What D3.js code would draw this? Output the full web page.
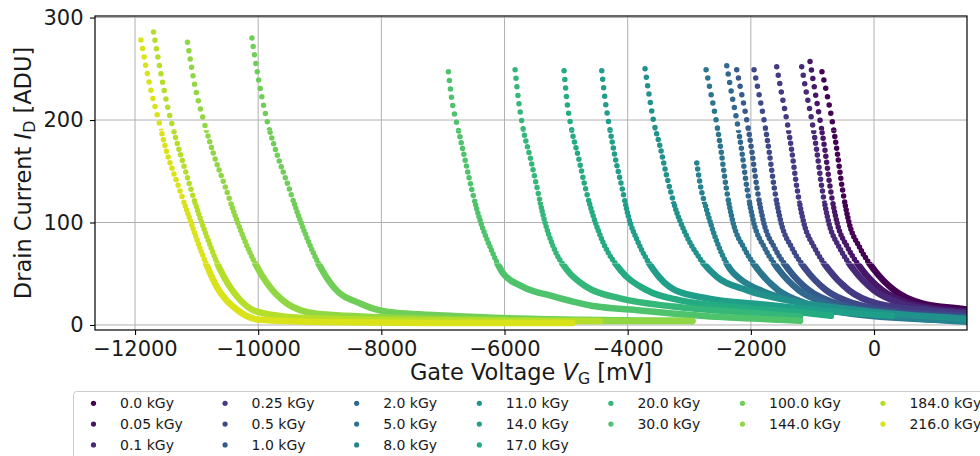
<!DOCTYPE html>
<html>
<head>
<meta charset="utf-8">
<script src="https://cdn.jsdelivr.net/npm/d3@7"></script>
<style>body{margin:0;background:#fff}</style>
</head>
<body>
<script>
// dose labels, one series per dose (legend order)
const doseLabels = ['0.0 kGy', '0.05 kGy', '0.1 kGy', '0.25 kGy', '0.5 kGy', '1.0 kGy',
  '2.0 kGy', '5.0 kGy', '8.0 kGy', '11.0 kGy', '14.0 kGy', '17.0 kGy',
  '20.0 kGy', '30.0 kGy', '100.0 kGy', '144.0 kGy', '184.0 kGy', '216.0 kGy'];

// [gate voltage mV, drain current ADU]
const c0_00 = [[-845,247],[-763,225],[-682,200],[-601,170],[-519,135],[-406,100],[-227,75],[0,54],[325,34],[779,21],[1510,15],[1560,14.5]];
const c0_05 = [[-1039,257],[-958,228],[-877,200],[-795,170],[-714,135],[-601,100],[-422,75],[-195,54],[130,34],[584,21],[1000,16],[1560,13]];
const c0_10 = [[-1174,252],[-1093,225],[-1011,200],[-930,170],[-849,135],[-735,100],[-557,75],[-330,54],[-5,34],[450,21],[950,15],[1560,12]];
const c0_25 = [[-1580,252],[-1498,225],[-1417,200],[-1336,170],[-1255,135],[-1141,100],[-963,75],[-735,54],[-411,34],[44,21],[909,14],[1560,11]];
const c0_50 = [[-1948,249],[-1867,225],[-1786,200],[-1705,170],[-1623,135],[-1510,100],[-1331,75],[-1104,54],[-779,34],[-325,21],[584,12],[1560,9]];
const c1_0 = [[-2229,249],[-2148,225],[-2067,200],[-1985,170],[-1904,135],[-1791,100],[-1612,75],[-1385,54],[-1060,34],[-606,21],[260,12],[1560,7]];
const c2_0 = [[-2391,253],[-2310,225],[-2229,200],[-2148,170],[-2067,135],[-1953,100],[-1774,75],[-1547,54],[-1222,34],[-768,21],[97,11],[1560,5]];
const c5_0 = [[-2727,249],[-2646,225],[-2565,200],[-2484,170],[-2403,135],[-2289,100],[-2110,75],[-1883,54],[-1558,34],[-1104,21],[-227,10],[1560,4]];
const c8_0 = [[-2878,158],[-2825,138],[-2716,112],[-2581,86],[-2460,68],[-2330,54],[-2175,45],[-1770,32],[-1201,22],[-227,12],[747,6],[1560,3]];
const c11 = [[-3718,250],[-3664,229],[-3583,200],[-3474,174],[-3365,145],[-3231,115],[-3068,90],[-2852,67],[-2554,47],[-2067,34],[-1400,24],[-500,16],[500,10],[1560,6]];
const c14 = [[-4421,248],[-4367,220],[-4286,190],[-4205,164],[-4096,135],[-3989,106],[-3826,80],[-3583,54],[-3231,34],[-2700,26],[-1802,20],[-438,12],[300,9]];
const c17 = [[-5033,248],[-4989,220],[-4908,190],[-4801,164],[-4692,135],[-4557,106],[-4395,80],[-4123,54],[-3690,34],[-3149,24],[-2338,18],[-990,11],[-700,9]];
const c20 = [[-5828,249],[-5774,220],[-5693,190],[-5585,164],[-5476,135],[-5369,106],[-5206,76],[-4989,54],[-4664,37],[-4123,26],[-3258,18],[-1802,11],[-1200,8]];
const c30 = [[-6911,247],[-6856,220],[-6748,190],[-6640,161],[-6531,132],[-6396,102],[-6234,76],[-6018,50],[-5693,37],[-5206,28],[-4502,18],[-3961,15],[-2825,9],[-1526,5],[-1200,4]];
const c100 = [[-10102,280],[-10021,249],[-9859,200],[-9697,167],[-9508,135],[-9318,102],[-9102,70],[-8777,37],[-8344,21],[-7911,13],[-6883,9],[-5585,6],[-4000,4.5],[-2950,4]];
const c144 = [[-11148,276],[-11023,232],[-10888,200],[-10726,167],[-10536,135],[-10346,102],[-10130,70],[-9859,41],[-9534,21],[-9047,11],[-7695,7],[-6000,5],[-4500,4],[-2950,4]];
const c184 = [[-11700,286],[-11591,249],[-11482,216],[-11347,184],[-11185,151],[-11023,119],[-10833,86],[-10617,54],[-10346,28],[-10021,13],[-9318,7],[-8000,5],[-6000,4],[-4450,4]];
const c216 = [[-11904,278],[-11753,232],[-11618,200],[-11482,168],[-11293,135],[-11103,102],[-10914,70],[-10670,37],[-10346,15],[-9968,5],[-9000,3],[-7000,2],[-4900,2]];

const curves = [c0_00, c0_05, c0_10, c0_25, c0_50, c1_0, c2_0, c5_0, c8_0,
  c11, c14, c17, c20, c30, c100, c144, c184, c216];

const xTicks = [-12000, -10000, -8000, -6000, -4000, -2000, 0];
const yTicks = [0, 100, 200, 300];

const W = 980, H = 456;
const M = { left: 95, right: 967, top: 16, bottom: 330 };
const FONT = "'DejaVu Sans', sans-serif";

const svg = d3.select('body').append('svg')
  .attr('xmlns', 'http://www.w3.org/2000/svg')
  .attr('width', W).attr('height', H)
  .attr('viewBox', `0 0 ${W} ${H}`);
svg.append('rect').attr('width', W).attr('height', H).attr('fill', '#fff');

const x = d3.scaleLinear().domain([-12650, 1510]).range([M.left, M.right]);
const y = d3.scaleLinear().domain([-4.9, 301.5]).range([M.bottom, M.top]);
const color = i => d3.interpolateViridis(i / curves.length);

// grid
const grid = svg.append('g').attr('stroke', '#b0b0b0').attr('stroke-width', 1);
grid.selectAll('.gx').data(xTicks).join('line')
  .attr('x1', d => x(d)).attr('x2', d => x(d))
  .attr('y1', M.top).attr('y2', M.bottom);
grid.selectAll('.gy').data(yTicks).join('line')
  .attr('y1', d => y(d)).attr('y2', d => y(d))
  .attr('x1', M.left).attr('x2', M.right);

// dot spacing gets denser as the curves flatten out
const bands = [
  { lo: 190, hi: 400, dash: '0 8.5', w: 5.5 },
  { lo: 120, hi: 190, dash: '0 6', w: 5.5 },
  { lo: 60, hi: 120, dash: '0 4', w: 5.5 },
  { lo: -50, hi: 60, dash: null, w: 6.5 }
];
const defs = svg.append('defs');
bands.forEach((b, i) => {
  const y0 = Math.max(M.top, y(b.hi)), y1 = Math.min(M.bottom, y(b.lo));
  defs.append('clipPath').attr('id', 'band' + i)
    .append('rect').attr('x', M.left).attr('y', y0)
    .attr('width', M.right - M.left).attr('height', y1 - y0);
});

const line = d3.line().x(d => x(d[0])).y(d => y(d[1])).curve(d3.curveMonotoneX);
const plot = svg.append('g');
curves.forEach((c, i) => {
  bands.forEach((b, j) => {
    const p = plot.append('path')
      .attr('d', line(c))
      .attr('fill', 'none')
      .attr('stroke', color(i))
      .attr('stroke-width', b.w)
      .attr('stroke-linecap', 'round')
      .attr('stroke-linejoin', 'round')
      .attr('clip-path', `url(#band${j})`);
    if (b.dash) p.attr('stroke-dasharray', b.dash);
  });
});

// axes
const xAxis = svg.append('g').attr('transform', `translate(0,${M.bottom})`)
  .call(d3.axisBottom(x).tickValues(xTicks).tickFormat(d3.format('d')).tickSize(5).tickPadding(6.5))
  .attr('font-size', 21).attr('font-family', FONT);
xAxis.select('.domain').remove();
xAxis.selectAll('line').attr('stroke', '#000').attr('stroke-width', 1.1);
xAxis.selectAll('text').attr('fill', '#1a1a1a');

const yAxis = svg.append('g').attr('transform', `translate(${M.left},0)`)
  .call(d3.axisLeft(y).tickValues(yTicks).tickFormat(d3.format('d')).tickSize(5).tickPadding(6.5))
  .attr('font-size', 21).attr('font-family', FONT);
yAxis.select('.domain').remove();
yAxis.selectAll('line').attr('stroke', '#000').attr('stroke-width', 1.1);
yAxis.selectAll('text').attr('fill', '#1a1a1a');

// spines
svg.append('rect')
  .attr('x', M.left).attr('y', M.top)
  .attr('width', M.right - M.left).attr('height', M.bottom - M.top)
  .attr('fill', 'none').attr('stroke', '#000').attr('stroke-width', 1.2);

// axis labels
const xl = svg.append('text')
  .attr('x', (M.left + M.right) / 2).attr('y', 380)
  .attr('text-anchor', 'middle')
  .attr('font-family', FONT).attr('font-size', 22.5).attr('fill', '#1a1a1a');
xl.append('tspan').text('Gate Voltage ');
xl.append('tspan').attr('font-style', 'italic').text('V');
xl.append('tspan').attr('font-size', '70%').attr('dy', 4).text('G');
xl.append('tspan').attr('dy', -4).text(' [mV]');

const yl = svg.append('text')
  .attr('transform', `translate(31,${(M.top + M.bottom) / 2}) rotate(-90)`)
  .attr('text-anchor', 'middle')
  .attr('font-family', FONT).attr('font-size', 22.5).attr('fill', '#1a1a1a');
yl.append('tspan').text('Drain Current ');
yl.append('tspan').attr('font-style', 'italic').text('I');
yl.append('tspan').attr('font-size', '70%').attr('dy', 4).text('D');
yl.append('tspan').attr('dy', -4).text(' [ADU]');

// legend: 7 columns, filled top to bottom
const ncol = 7;
const base = Math.floor(curves.length / ncol), extra = curves.length % ncol;
const leg = svg.append('g');
leg.append('rect')
  .attr('x', 73.5).attr('y', 391.5).attr('width', 1000).attr('height', 120)
  .attr('rx', 3).attr('fill', '#fff').attr('stroke', '#cccccc').attr('stroke-width', 1);
let idx = 0, colX = 120;
for (let c = 0; c < ncol; c++) {
  const n = base + (c < extra ? 1 : 0);
  let maxW = 0;
  for (let r = 0; r < n; r++, idx++) {
    const cy = 403.3 + r * 20.8;
    leg.append('circle').attr('cx', colX - 26.5).attr('cy', cy).attr('r', 2.6).attr('fill', color(idx));
    const t = leg.append('text')
      .attr('x', colX).attr('y', cy + 5)
      .attr('font-family', FONT).attr('font-size', 14).attr('fill', '#1a1a1a')
      .text(doseLabels[idx]);
    maxW = Math.max(maxW, t.node().getComputedTextLength());
  }
  colX += maxW + 68.7;
}
</script>
</body>
</html>
